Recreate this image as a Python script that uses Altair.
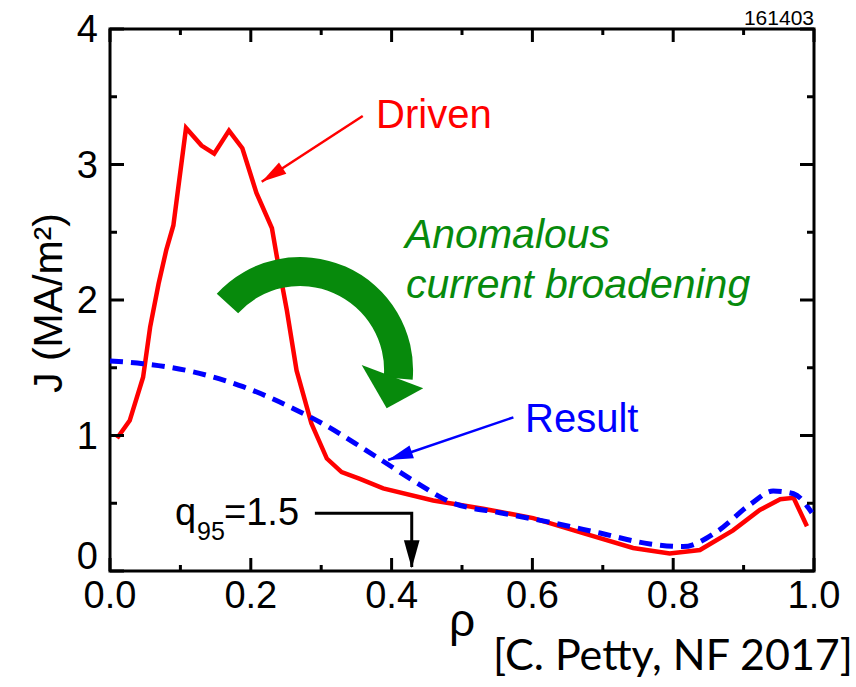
import altair as alt
import pandas as pd

# ---------------- data ----------------
driven_rho = [0.010, 0.028, 0.047, 0.057, 0.069, 0.080, 0.090, 0.108, 0.130, 0.148,
              0.169, 0.188, 0.208, 0.230, 0.237, 0.251, 0.265, 0.286, 0.308, 0.329,
              0.355, 0.388, 0.459, 0.530, 0.601, 0.672, 0.743, 0.795, 0.838, 0.885,
              0.923, 0.952, 0.971, 0.990]
driven_j = [0.98, 1.11, 1.43, 1.80, 2.12, 2.37, 2.55, 3.27, 3.14, 3.08,
            3.25, 3.12, 2.79, 2.53, 2.32, 1.93, 1.48, 1.09, 0.83, 0.73,
            0.68, 0.61, 0.52, 0.46, 0.39, 0.28, 0.17, 0.13, 0.155, 0.30,
            0.45, 0.53, 0.54, 0.33]

result_rho = [0.0, 0.047, 0.118, 0.189, 0.260, 0.308, 0.355, 0.388, 0.436, 0.483,
              0.554, 0.625, 0.696, 0.767, 0.814, 0.862, 0.909, 0.942, 0.971, 0.997]
result_j = [1.55, 1.53, 1.47, 1.36, 1.20, 1.07, 0.92, 0.81, 0.65, 0.51,
            0.43, 0.36, 0.28, 0.20, 0.18, 0.29, 0.49, 0.59, 0.57, 0.43]

x_major = [0.0, 0.2, 0.4, 0.6, 0.8, 1.0]
x_minor = [0.1, 0.3, 0.5, 0.7, 0.9]
y_major = [0, 1, 2, 3, 4]
y_minor = [0.5, 1.5, 2.5, 3.5]
x_title = "ρ"
y_title = "J (MA/m²)"

# annotation anchors (data units)
driven_label = (0.378, 3.267)
driven_arrow = (0.359, 3.358, 0.2155, 2.873)   # tail x, tail y, tip x, tip y
result_label = (0.5895, 1.028)
result_arrow = (0.573, 1.134, 0.395, 0.819)
anom_line1 = (0.419, 2.382)
anom_line2 = (0.4205, 2.015)
q_path_x = [0.291, 0.4286, 0.4286]
q_path_y = [0.426, 0.426, 0.03]
q_tip = (0.4286, 0.02)
q_text = (0.0923, 0.339)
q_sub = (0.1236, 0.229)
q_rest = (0.162, 0.339)
green_center = (0.27, 1.483)
green_tip = (0.393, 1.2007)
cite = (0.544, -0.73)
x_title_pos = (0.5, -0.48)
y_title_pos = (-0.0859, 1.978)
run_pos = (1.0, 4.0305)

W, H = 704, 542
RED, BLUE, GREEN = "#ff0000", "#0000ff", "#078a0c"
FONT = "Liberation Sans"

xs = alt.Scale(domain=[0, 1], nice=False, zero=False)
ys = alt.Scale(domain=[0, 4], nice=False, zero=False)

def X(f, **k):
    return alt.X(f, scale=xs, axis=None, **k)

def Y(f, **k):
    return alt.Y(f, scale=ys, axis=None, **k)

driven = pd.DataFrame({"rho": driven_rho, "J": driven_j})
result = pd.DataFrame({"rho": result_rho, "J": result_j})

base_line = alt.Chart(driven).mark_line(color=RED, strokeWidth=4.5, strokeJoin="miter").encode(
    x=X("rho:Q", title="ρ"), y=Y("J:Q", title="J (MA/m²)"), order="rho:Q")

res_line = alt.Chart(result).mark_line(color=BLUE, strokeWidth=5, strokeDash=[13, 8],
                                       interpolate="monotone").encode(
    x=X("rho:Q"), y=Y("J:Q"))

layers = [base_line, res_line]

# ---------- inward ticks on all four sides ----------
def xticks(vals, y0, off):
    return alt.Chart(pd.DataFrame({"v": vals})).mark_rule(
        color="black", strokeWidth=3, y2Offset=off).encode(
        x=X("v:Q"), y=alt.Y(datum=y0, scale=ys, axis=None), y2=alt.Y2(datum=y0))

def yticks(vals, x0, off):
    return alt.Chart(pd.DataFrame({"v": vals})).mark_rule(
        color="black", strokeWidth=3, x2Offset=off).encode(
        y=Y("v:Q"), x=alt.X(datum=x0, scale=xs, axis=None), x2=alt.X2(datum=x0))

layers += [xticks(x_major, 0, -13), xticks(x_minor, 0, -6),
           xticks(x_major, 4, 13), xticks(x_minor, 4, 6),
           yticks(y_major, 0, 14), yticks(y_minor, 0, 7),
           yticks(y_major, 1, -14), yticks(y_minor, 1, -7)]

# tick labels
layers += [alt.Chart(pd.DataFrame({"v": x_major})).mark_text(
    fontSize=38, font=FONT, color="black", align="center", baseline="alphabetic", dy=37).encode(
    x=X("v:Q"), y=alt.Y(datum=0, scale=ys, axis=None), text=alt.Text("v:Q", format=".1f"))]

def ylabels(vals, dy):
    return alt.Chart(pd.DataFrame({"v": vals})).mark_text(
        fontSize=38, font=FONT, color="black", align="right", baseline="middle",
        dx=-12, dy=dy).encode(
        y=Y("v:Q"), x=alt.X(datum=0, scale=xs, axis=None), text=alt.Text("v:Q", format="d"))

# the bottom label sits a little higher, clear of the x labels (as in the figure)
layers += [ylabels(y_major[1:], 2), ylabels(y_major[:1], -13)]

# ---------- annotations ----------
def text(label, pos, color, size, font=FONT, style="normal", align="left",
         baseline="alphabetic", angle=0):
    return alt.Chart(pd.DataFrame({"t": [label], "x": [pos[0]], "y": [pos[1]]})).mark_text(
        color=color, fontSize=size, font=font, fontStyle=style, align=align,
        baseline=baseline, angle=angle).encode(x=X("x:Q"), y=Y("y:Q"), text="t:N")

def arrow(a, color, width, angle, L=25, hw=0.54):
    seg = alt.Chart(pd.DataFrame({"x": [a[0]], "y": [a[1]], "x2": [a[2]], "y2": [a[3]]})).mark_rule(
        color=color, strokeWidth=width).encode(x=X("x:Q"), y=Y("y:Q"), x2="x2:Q", y2="y2:Q")
    head = alt.Chart(pd.DataFrame({"x": [a[2]], "y": [a[3]]})).mark_point(
        shape=f"M0,0L{hw},2L-{hw},2Z", filled=True, opacity=1, color=color,
        size=L * L, angle=angle, strokeWidth=0).encode(x=X("x:Q"), y=Y("y:Q"))
    return [seg, head]

# axis titles
layers += [text(x_title, x_title_pos, "black", 46, align="center"),
           text(y_title, y_title_pos, "black", 41, align="center", baseline="middle", angle=270)]

layers += [text("Driven", driven_label, RED, 40)]
layers += arrow(driven_arrow, RED, 2.5, 237)
layers += [text("Result", result_label, BLUE, 40)]
layers += arrow(result_arrow, BLUE, 2.5, 251)
layers += [text("Anomalous", anom_line1, GREEN, 41, style="italic"),
           text("current broadening", anom_line2, GREEN, 41, style="italic")]

# q95 marker
qdf = pd.DataFrame({"x": q_path_x, "y": q_path_y, "o": [0, 1, 2]})
layers += [alt.Chart(qdf).mark_line(color="black", strokeWidth=3, strokeJoin="miter").encode(
    x=X("x:Q"), y=Y("y:Q"), order="o:Q")]
layers += [alt.Chart(pd.DataFrame({"x": [q_tip[0]], "y": [q_tip[1]]})).mark_point(
    shape="M0,0L0.56,-2L-0.56,-2Z", filled=True, opacity=1, color="black",
    size=28 * 28, strokeWidth=0).encode(x=X("x:Q"), y=Y("y:Q"))]
layers += [text("q", q_text, "black", 38), text("95", q_sub, "black", 25),
           text("=1.5", q_rest, "black", 38)]

# green curved arrow
layers += [alt.Chart(pd.DataFrame({"x": [green_center[0]], "y": [green_center[1]]})).mark_arc(
    color=GREEN, theta=5.454, theta2=7.94, radius=113, radius2=84).encode(
    x=X("x:Q"), y=Y("y:Q"))]
layers += [alt.Chart(pd.DataFrame({"x": [green_tip[0]], "y": [green_tip[1]]})).mark_point(
    shape="M0,0L-1,-1.732L1.464,-0.8Z", filled=True, opacity=1, color=GREEN,
    size=2500, strokeWidth=0).encode(x=X("x:Q"), y=Y("y:Q"))]

# run number and citation
layers += [text("161403", run_pos, "black", 21, align="right"),
           text("[C. Petty, NF 2017]", cite, "black", 43, font="Lato")]

chart = alt.layer(*layers).properties(
    width=W, height=H,
    autosize=alt.AutoSizeParams(type="none"),
    padding={"left": 110, "top": 29, "right": 42, "bottom": 116},
    background="white",
).configure_view(stroke="black", strokeWidth=3)

chart.save("out.html", embed_options={"renderer": "svg", "actions": False})
